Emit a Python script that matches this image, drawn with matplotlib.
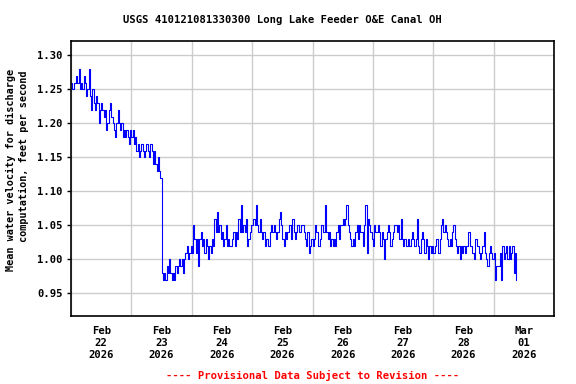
#!/usr/bin/env python3
"""USGS velocity chart, Long Lake Feeder O&E Canal OH (30-minute values)."""

import numpy as np
import pandas as pd
import matplotlib
matplotlib.use("Agg")
import matplotlib.pyplot as plt

# ============================================================================
# DATA (hundredths of ft/s, 30-minute steps starting Feb 22 2026 00:00)
# ============================================================================

feb22 = [126, 125, 126, 126, 127, 126, 128, 125, 126, 125, 127, 126,
         124, 125, 128, 124, 122, 125, 123, 122, 124, 123, 120, 122,
         123, 122, 121, 122, 119, 120, 122, 123, 121, 120, 119, 118,
         120, 122, 120, 119, 120, 118, 119, 118, 119, 118, 117, 119]
feb23 = [118, 119, 117, 118, 116, 117, 115, 116, 117, 116, 115, 116,
         117, 116, 115, 117, 116, 114, 116, 114, 113, 115, 113, 112,
         98, 97, 98, 97, 99, 98, 100, 98, 97, 98, 97, 99,
         98, 99, 100, 99, 100, 98, 100, 101, 102, 100, 101, 102]
feb24 = [101, 105, 103, 101, 103, 99, 103, 104, 102, 103, 101, 103,
         102, 100, 102, 101, 103, 102, 106, 104, 107, 104, 105, 103,
         104, 102, 103, 105, 102, 103, 102, 102, 103, 104, 102, 104,
         103, 106, 104, 108, 104, 105, 104, 106, 102, 103, 104, 105]
feb25 = [105, 106, 105, 108, 105, 104, 106, 104, 103, 104, 102, 103,
         103, 102, 104, 105, 104, 105, 104, 103, 104, 106, 107, 105,
         103, 102, 104, 103, 104, 105, 105, 103, 106, 104, 103, 104,
         105, 104, 104, 105, 105, 104, 103, 102, 104, 101, 102, 103]
feb26 = [102, 103, 105, 104, 102, 102, 103, 105, 104, 104, 108, 104,
         103, 104, 102, 103, 102, 103, 102, 104, 105, 103, 105, 105,
         106, 105, 106, 108, 105, 104, 103, 102, 103, 102, 104, 105,
         103, 105, 104, 104, 102, 105, 108, 101, 106, 105, 104, 103]
feb27 = [102, 105, 104, 104, 105, 104, 102, 104, 103, 100, 103, 104,
         105, 104, 102, 103, 104, 105, 105, 104, 105, 103, 106, 103,
         102, 103, 102, 102, 103, 102, 103, 104, 103, 102, 103, 106,
         102, 101, 103, 104, 103, 101, 103, 102, 100, 102, 101, 102]
feb28 = [101, 102, 103, 103, 101, 103, 105, 106, 104, 105, 104, 103,
         102, 103, 102, 104, 105, 103, 102, 101, 102, 100, 102, 101,
         102, 101, 102, 102, 104, 102, 102, 101, 100, 103, 103, 102,
         101, 100, 101, 102, 104, 101, 100, 99, 101, 102, 101, 100]
mar01 = [101, 97, 99, 99, 99, 101, 97, 102, 100, 101, 102, 100,
         102, 100, 101, 102, 98, 101, 97]

day_labels = ["Feb\n22\n2026", "Feb\n23\n2026", "Feb\n24\n2026", "Feb\n25\n2026",
              "Feb\n26\n2026", "Feb\n27\n2026", "Feb\n28\n2026", "Mar\n01\n2026"]
y_ticks = [0.95, 1.00, 1.05, 1.10, 1.15, 1.20, 1.25, 1.30]

values = np.array(feb22 + feb23 + feb24 + feb25 + feb26 + feb27 + feb28 + mar01) / 100.0
times = pd.date_range("2026-02-22 00:00", periods=len(values), freq="30min")

# ============================================================================
# PLOT
# ============================================================================

FONT = "DejaVu Sans Mono"

fig = plt.figure(figsize=(5.76, 3.84), dpi=100)
ax = fig.add_axes([0.1233, 0.177, 0.8385, 0.716])

ax.plot(times, values, color="#0000ff", lw=0.8, drawstyle="steps-post")

ax.set_xlim(pd.Timestamp("2026-02-22"), pd.Timestamp("2026-03-02"))
ax.set_ylim(0.9166, 1.321)

# gridlines at midnight, labels at noon
midnights = pd.date_range("2026-02-22", "2026-03-02", freq="D")
noons = pd.date_range("2026-02-22 12:00", periods=len(day_labels), freq="D")
ax.set_xticks(midnights)
ax.set_xticklabels([])
ax.set_xticks(noons, minor=True)
ax.set_xticklabels(day_labels, minor=True, fontfamily=FONT, fontweight="bold",
                   fontsize=7.6, linespacing=1.25)
ax.tick_params(axis="x", which="both", length=0, pad=7)

ax.set_yticks(y_ticks)
ax.set_yticklabels([f"{v:.2f}" for v in y_ticks], fontfamily=FONT,
                   fontweight="bold", fontsize=7.6)
ax.tick_params(axis="y", length=3, width=1, pad=3)

ax.grid(True, which="major", color="#cccccc", lw=1)
ax.set_axisbelow(True)
for side in ax.spines.values():
    side.set_linewidth(1.2)

# y label: two separately placed lines, as in the original
fig.text(11 / 576, 1 - 169.5 / 384, "Mean water velocity for discharge",
         rotation=90, ha="center", va="center", fontfamily=FONT,
         fontweight="bold", fontsize=7.25)
fig.text(24 / 576, 1 - 156.5 / 384, "computation, feet per second",
         rotation=90, ha="center", va="center", fontfamily=FONT,
         fontweight="bold", fontsize=7.25)

fig.text(0.49, 0.948, "USGS 410121081330300 Long Lake Feeder O&E Canal OH",
         ha="center", va="center", fontfamily=FONT, fontweight="bold", fontsize=7.6)
fig.text(0.5425, 0.023, "---- Provisional Data Subject to Revision ----",
         ha="center", va="center", color="red", fontfamily=FONT,
         fontweight="bold", fontsize=7.6)

plt.savefig("out.png", dpi=100)
